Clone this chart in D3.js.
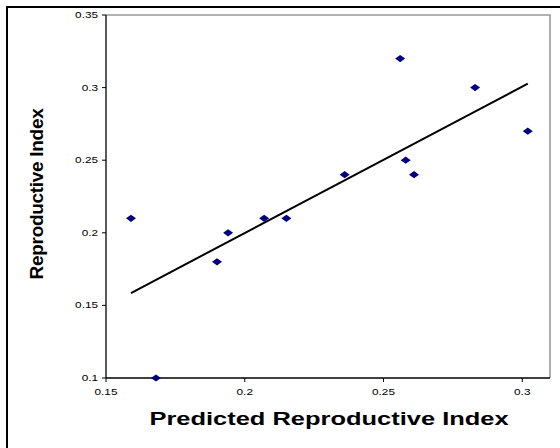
<!DOCTYPE html>
<html>
<head>
<meta charset="utf-8">
<script src="https://cdn.jsdelivr.net/npm/d3@7/dist/d3.min.js"></script>
<style>
  html, body { margin: 0; padding: 0; background: #fff; }
  svg { display: block; }
  text { font-family: "Liberation Sans", Arial, sans-serif; fill: #000; }
</style>
</head>
<body>
<svg id="chart" width="560" height="448"></svg>
<script>
// Predicted vs. observed reproductive index
const predicted = [0.159, 0.168, 0.190, 0.194, 0.207, 0.215, 0.236, 0.256, 0.258, 0.261, 0.283, 0.302];
const observed  = [0.21, 0.10, 0.18, 0.20, 0.21, 0.21, 0.24, 0.32, 0.25, 0.24, 0.30, 0.27];
const xTicks = [0.15, 0.2, 0.25, 0.3];
const xTickLabels = ["0.15", "0.2", "0.25", "0.3"];
const yTicks = [0.1, 0.15, 0.2, 0.25, 0.3, 0.35];
const yTickLabels = ["0.1", "0.15", "0.2", "0.25", "0.3", "0.35"];
const xTitle = "Predicted Reproductive Index";
const yTitle = "Reproductive Index";

const svg = d3.select("#chart");
const stretch = 1.34; // wide text rendering of the chart

const plot = { left: 106, right: 550, top: 15, bottom: 378 };
const x = d3.scaleLinear().domain([0.15, 0.31]).range([plot.left, plot.right]);
const y = d3.scaleLinear().domain([0.1, 0.35]).range([plot.bottom, plot.top]);

// outer frame (top and left edges visible)
svg.append("path")
  .attr("d", `M7,460 L7,7 L570,7`)
  .attr("fill", "none").attr("stroke", "#000").attr("stroke-width", 2);

// plot-area frame
svg.append("path")
  .attr("d", `M${plot.left},${plot.top} L${plot.right},${plot.top} L${plot.right},${plot.bottom}`)
  .attr("fill", "none").attr("stroke", "#999").attr("stroke-width", 1.6);

// x axis
const xAxis = svg.append("g").attr("transform", `translate(0,${plot.bottom})`);
xAxis.append("line").attr("x1", plot.left).attr("x2", plot.right)
  .attr("stroke", "#000").attr("stroke-width", 1.3);
xTicks.forEach((t, i) => {
  const g = xAxis.append("g").attr("transform", `translate(${x(t)},0)`);
  g.append("line").attr("y1", 0).attr("y2", 4).attr("stroke", "#000");
  g.append("text").attr("y", 17).attr("text-anchor", "middle")
    .attr("font-size", 8.8).attr("transform", `scale(${stretch},1)`)
    .text(xTickLabels[i]);
});

// y axis
const yAxis = svg.append("g").attr("transform", `translate(${plot.left},0)`);
yAxis.append("line").attr("y1", plot.top).attr("y2", plot.bottom)
  .attr("stroke", "#000").attr("stroke-width", 1.3);
yTicks.forEach((t, i) => {
  const g = yAxis.append("g").attr("transform", `translate(0,${y(t)})`);
  g.append("line").attr("x1", -4).attr("x2", 0).attr("stroke", "#000");
  g.append("text").attr("x", -8 / stretch).attr("dy", "0.35em").attr("text-anchor", "end")
    .attr("font-size", 8.8).attr("transform", `scale(${stretch},1)`)
    .text(yTickLabels[i]);
});

// least-squares trend line
const mx = d3.mean(predicted), my = d3.mean(observed);
const sxy = d3.sum(predicted, (v, i) => (v - mx) * (observed[i] - my));
const sxx = d3.sum(predicted, v => (v - mx) * (v - mx));
const slope = sxy / sxx, intercept = my - slope * mx;
const [x0, x1] = d3.extent(predicted);
svg.append("line")
  .attr("x1", x(x0)).attr("y1", y(intercept + slope * x0))
  .attr("x2", x(x1)).attr("y2", y(intercept + slope * x1))
  .attr("stroke", "#000").attr("stroke-width", 2);

// diamond markers
const diamond = "M0,-3.6 L5,0 L0,3.6 L-5,0 Z";
svg.append("g").selectAll("path")
  .data(predicted.map((p, i) => [p, observed[i]]))
  .join("path")
  .attr("d", diamond)
  .attr("transform", d => `translate(${x(d[0])},${y(d[1])})`)
  .attr("fill", "#000080");

// axis titles
svg.append("text")
  .attr("transform", `translate(${(plot.left + plot.right) / 2 + 1},425) scale(${stretch},1)`)
  .attr("text-anchor", "middle").attr("font-size", 19).attr("font-weight", "bold")
  .text(xTitle);

svg.append("text")
  .attr("transform", `translate(43,194) rotate(-90)`)
  .attr("text-anchor", "middle").attr("font-size", 19).attr("font-weight", "bold")
  .attr("letter-spacing", -0.3)
  .text(yTitle);
</script>
</body>
</html>
